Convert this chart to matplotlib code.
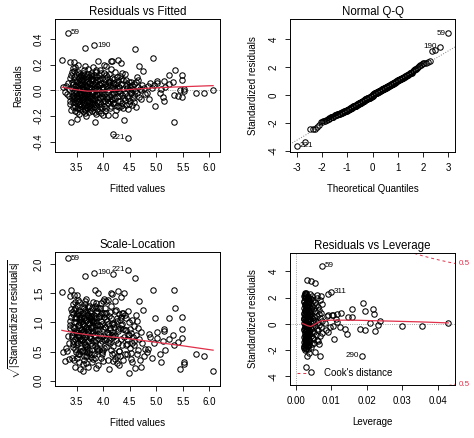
import statistics
import numpy as np
import matplotlib.pyplot as plt

plt.rcParams['font.family'] = ['Liberation Sans', 'DejaVu Sans']
plt.rcParams['mathtext.fontset'] = 'custom'
plt.rcParams['mathtext.rm'] = 'Liberation Sans'
plt.rcParams['axes.unicode_minus'] = False

# ---- data (fitted value, raw residual) ----
fitted = [
    3.22, 3.25, 3.27, 3.29,
    3.34, 3.39, 3.38, 3.37, 3.35, 3.33, 3.40, 3.36, 3.38, 3.39, 3.32, 3.37,
    3.44, 3.47, 3.42, 3.41, 3.45, 3.48, 3.43, 3.46, 3.41, 3.44, 3.49, 3.42, 3.47, 3.45,
    3.43, 3.48, 3.46, 3.41, 3.49, 3.44, 3.42, 3.47, 3.45, 3.43, 3.48, 3.46, 3.49, 3.41,
    3.51, 3.53, 3.52, 3.55, 3.57, 3.54, 3.58, 3.51, 3.56, 3.53, 3.59, 3.52, 3.55, 3.57,
    3.50, 3.54, 3.58, 3.51, 3.56, 3.53, 3.59, 3.55, 3.52, 3.57, 3.54, 3.58, 3.50, 3.56,
    3.53, 3.59, 3.51, 3.55, 3.57, 3.52, 3.58, 3.54,
    3.65, 3.66, 3.68, 3.62, 3.64, 3.61, 3.67, 3.63, 3.69, 3.60, 3.66, 3.62, 3.68, 3.64,
    3.61, 3.67, 3.63, 3.69, 3.65, 3.60, 3.66, 3.62, 3.68, 3.64, 3.61, 3.67, 3.63, 3.69,
    3.65, 3.62, 3.66, 3.60, 3.68, 3.63, 3.67, 3.61, 3.64, 3.69, 3.66, 3.62,
    3.71, 3.74, 3.77, 3.72, 3.75, 3.78, 3.73, 3.76, 3.79, 3.70, 3.74, 3.77, 3.72, 3.75,
    3.78, 3.71, 3.76, 3.73, 3.79, 3.74, 3.77, 3.70, 3.75, 3.78, 3.72, 3.76, 3.79, 3.73,
    3.71, 3.77, 3.74, 3.78, 3.70, 3.75, 3.72, 3.76,
    3.83, 3.85, 3.81, 3.87, 3.82, 3.86, 3.89, 3.84, 3.80, 3.88, 3.83, 3.86, 3.81, 3.89,
    3.84, 3.87, 3.82, 3.85, 3.88, 3.80, 3.86, 3.83, 3.89, 3.84, 3.87, 3.81, 3.85, 3.88,
    3.82, 3.86, 3.80, 3.84,
    3.90, 3.94, 3.95, 3.99, 3.92, 3.97, 3.91, 3.96, 3.93, 3.98, 3.90, 3.95, 3.92, 3.97,
    3.94, 3.99, 3.91, 3.96, 3.93, 3.98, 3.90, 3.95, 3.92, 3.97, 3.94, 3.99,
    4.02, 4.08, 4.05, 4.01, 4.07, 4.03, 4.09, 4.04, 4.06, 4.00, 4.08, 4.02, 4.05, 4.07,
    4.03, 4.09, 4.01, 4.06, 4.04, 4.08, 4.00, 4.06,
    4.15, 4.16, 4.18, 4.14, 4.11, 4.17, 4.12, 4.19, 4.13, 4.16, 4.10, 4.18, 4.14, 4.11,
    4.17, 4.12, 4.19, 4.15, 4.13, 4.16, 4.10, 4.18,
    4.27, 4.22, 4.22, 4.25, 4.21, 4.28, 4.24, 4.29, 4.23, 4.26, 4.20, 4.27, 4.23, 4.28,
    4.21, 4.25, 4.29, 4.24, 4.26, 4.20,
    4.33, 4.39, 4.36, 4.31, 4.38, 4.34, 4.30, 4.37, 4.32, 4.35, 4.39, 4.31, 4.36, 4.33,
    4.38, 4.34, 4.30,
    4.47, 4.41, 4.46, 4.43, 4.48, 4.42, 4.45, 4.49, 4.40, 4.44, 4.47, 4.41, 4.48, 4.43, 4.45,
    4.54, 4.52, 4.57, 4.51, 4.55, 4.59, 4.53, 4.58, 4.56, 4.50, 4.54, 4.57, 4.52,
    4.60, 4.67, 4.61, 4.64, 4.62, 4.66, 4.69, 4.63, 4.68, 4.65,
    4.75, 4.72, 4.73, 4.77, 4.71, 4.78,
    4.93, 4.87, 4.85, 4.82, 4.91, 4.95, 4.98, 4.89,
    5.02, 5.01, 5.08, 5.07, 5.15, 5.17, 5.15, 5.12,
    5.23, 5.23, 5.31, 5.36, 5.34, 5.33, 5.41, 5.44, 5.48, 5.49, 5.49, 5.53, 5.53,
    5.75, 5.90, 6.07,
]
resid = [
    0.235, 0.024, -0.012, 0.033,
    0.45, -0.248, 0.093, 0.218, -0.043, 0.061, -0.155, 0.014, -0.083, 0.121, -0.026, -0.108,
    0.22, 0.185, 0.178, 0.142, 0.103, 0.072, 0.047, 0.031, 0.016, -0.013, -0.024, -0.041, -0.053, -0.068,
    -0.087, -0.102, -0.119, -0.058, 0.124, 0.083, -0.133, 0.006, 0.152, -0.034, 0.038, -0.161, -0.077, 0.064,
    -0.22, -0.14, 0.198, 0.131, 0.113, 0.094, 0.078, 0.069, 0.052, 0.043, 0.027, 0.021, 0.011, -0.004,
    -0.015, -0.022, -0.033, -0.046, -0.051, -0.063, -0.072, -0.084, -0.093, -0.104, -0.113, -0.121, -0.134, -0.148,
    0.147, 0.106, -0.172, 0.058, -0.027, -0.061, 0.118, -0.186,
    0.33, 0.19, -0.20, 0.138, 0.117, 0.098, 0.087, 0.074, 0.062, 0.049, 0.041, 0.029, 0.018, 0.013,
    0.003, -0.009, -0.018, -0.031, -0.038, -0.052, -0.057, -0.071, -0.079, -0.091, -0.097, -0.112, -0.118, -0.129,
    -0.142, -0.163, -0.151, 0.081, 0.109, -0.044, 0.036, -0.067, 0.158, -0.025, -0.178, 0.008,
    0.128, 0.101, 0.084, 0.071, 0.054, 0.039, 0.023, 0.017, -0.011, -0.019, -0.029, -0.042, -0.048, -0.059,
    -0.069, -0.082, -0.088, -0.099, -0.109, -0.123, -0.127, -0.138, -0.147, -0.158, 0.163, 0.137, 0.111, 0.057,
    -0.006, -0.021, -0.168, 0.092, 0.034, -0.116, -0.074, 0.122,
    0.35, -0.25, 0.185, 0.143, 0.119, 0.103, 0.081, 0.063, 0.048, 0.032, 0.022, 0.005, -0.014, -0.026,
    -0.037, -0.049, -0.064, -0.078, -0.094, -0.102, -0.117, -0.131, -0.146, -0.167, -0.182, 0.088, 0.044, -0.031,
    -0.108, 0.157, -0.072, 0.015,
    0.23, 0.16, -0.18, -0.19, 0.121, 0.097, 0.079, 0.061, 0.043, 0.024, 0.007, -0.016, -0.028, -0.047,
    -0.062, -0.081, -0.092, -0.107, -0.126, -0.139, -0.158, 0.132, 0.053, -0.022, 0.089, 0.028,
    0.20, -0.195, 0.19, 0.137, 0.108, 0.087, 0.068, 0.051, 0.034, 0.012, -0.013, -0.032, -0.053, -0.071,
    -0.086, -0.097, -0.123, -0.138, -0.157, 0.046, -0.061, 0.116,
    0.23, 0.225, -0.34, 0.168, 0.127, 0.098, 0.076, 0.057, 0.042, 0.022, 0.004, -0.012, -0.029, -0.051,
    -0.064, -0.083, -0.101, -0.118, -0.141, -0.072, 0.067, 0.037,
    0.24, 0.145, -0.19, 0.107, 0.088, 0.073, 0.051, 0.027, 0.014, -0.009, -0.023, -0.043, -0.062, -0.079,
    -0.098, -0.118, -0.132, -0.149, 0.019, 0.059,
    0.21, -0.23, 0.138, 0.112, 0.079, 0.053, 0.026, 0.013, -0.018, -0.039, -0.058, -0.083, -0.097, -0.122,
    -0.139, 0.092, -0.007,
    -0.37, 0.13, -0.145, 0.078, 0.063, 0.038, 0.021, 0.002, -0.021, -0.041, -0.063, -0.078, -0.104, -0.117, 0.052,
    -0.11, 0.068, 0.047, 0.032, 0.011, -0.005, -0.023, -0.038, -0.057, -0.082, 0.043, -0.091, -0.014,
    0.32, 0.19, -0.13, 0.108, 0.063, 0.028, 0.013, -0.021, -0.052, 0.084,
    0.15, -0.07, 0.042, 0.019, 0.006, -0.031,
    0.25, -0.065, 0.031, -0.024, 0.016, 0.042, -0.12, 0.058,
    0.071, 0.055, 0.011, -0.021, 0.075, 0.029, -0.082, -0.048,
    0.118, 0.052, 0.062, 0.16, -0.245, -0.039, -0.046, 0.0045, 0.122, 0.079, -0.055, 0.011, -0.008,
    -0.021, -0.019, 0.0026,
]
resid_se = 0.102                 # residual standard error (59 -> 4.4)
top_ids = ['59', '221', '190']   # the three largest |residuals|, in that order

# red smoothers
smooth1_x = [3.22, 3.5, 3.7, 4.0, 4.4, 4.8, 5.2, 5.6, 6.07]
smooth1_y = [0.025, 0.004, -0.006, -0.004, 0.004, 0.016, 0.024, 0.030, 0.037]
smooth3_x = [3.22, 3.5, 3.75, 4.0, 4.5, 5.0, 5.5, 6.07]
smooth3_y = [0.865, 0.815, 0.785, 0.765, 0.72, 0.66, 0.60, 0.525]

# ---- Residuals vs Leverage (leverage, standardized residual) ----
lev = [
    0.0024, 0.0027, 0.0022, 0.0030, 0.0025, 0.0028, 0.0023, 0.0031, 0.0026, 0.0029,
    0.0022, 0.0027, 0.0024, 0.0030, 0.0025, 0.0028, 0.0023, 0.0026, 0.0031, 0.0024,
    0.0029, 0.0022, 0.0027, 0.0025, 0.0030, 0.0023, 0.0028, 0.0026, 0.0024, 0.0031,
    0.0022, 0.0029, 0.0025, 0.0027, 0.0023, 0.0030, 0.0026, 0.0024, 0.0028, 0.0022,
    0.0031, 0.0025, 0.0027, 0.0023, 0.0029, 0.0026,
    0.0028, 0.0023, 0.0031, 0.0026, 0.0029, 0.0024, 0.0032, 0.0027, 0.0022, 0.0030,
    0.0025, 0.0028, 0.0023, 0.0031, 0.0026, 0.0029, 0.0024, 0.0032, 0.0027, 0.0022,
    0.0030, 0.0025, 0.0028, 0.0033, 0.0034, 0.0032, 0.0035, 0.0033, 0.0034, 0.0036,
    0.0023, 0.0026, 0.0029, 0.0032, 0.0035, 0.0038, 0.0024, 0.0027, 0.0030, 0.0033,
    0.0036, 0.0039, 0.0022, 0.0025, 0.0028, 0.0031, 0.0034, 0.0037, 0.0040, 0.0026,
    0.0029, 0.0032, 0.0035, 0.0023, 0.0027, 0.0030, 0.0033, 0.0036, 0.0025, 0.0031,
    0.0035, 0.0041, 0.0038, 0.0045, 0.0033, 0.0040, 0.0036, 0.0047, 0.0043, 0.0034,
    0.0039, 0.0046, 0.0037, 0.0042, 0.0035, 0.0044, 0.0038, 0.0033, 0.0041, 0.0047,
    0.0036, 0.0040, 0.0045, 0.0034, 0.0039, 0.0043, 0.0037, 0.0046, 0.0035, 0.0042,
    0.0038, 0.0044, 0.0033, 0.0040, 0.0036, 0.0047, 0.0041, 0.0034, 0.0045, 0.0039,
    0.0052, 0.0060, 0.0049, 0.0067, 0.0056, 0.0072, 0.0050, 0.0063, 0.0058, 0.0070,
    0.0053, 0.0065, 0.0049, 0.0061, 0.0074, 0.0055, 0.0068, 0.0051, 0.0059, 0.0064,
    0.0071, 0.0054, 0.0066, 0.0050, 0.0062, 0.0057, 0.0073, 0.0053, 0.0069, 0.0060,
    0.00725, 0.0030, 0.0041, 0.0055, 0.0091, 0.0099, 0.0058, 0.0071, 0.0188, 0.0159,
    0.0196, 0.0218, 0.0221, 0.0127, 0.0105, 0.0087, 0.0112, 0.0148, 0.0157, 0.0237,
    0.0232, 0.0209, 0.0300, 0.0355, 0.0430, 0.0181, 0.0195, 0.0222, 0.0138, 0.0143,
    0.0124, 0.0105, 0.0115, 0.0091, 0.0108, 0.0185, 0.0068, 0.0054, 0.0038, 0.0032,
    0.0028, 0.0042, 0.0066, 0.0061, 0.0089, 0.0103, 0.0117, 0.0082, 0.0095, 0.0085,
]
sres = [
    -1.97, -1.88, -1.79, -1.66, -1.55, -1.47, -1.36, -1.28, -1.17, -1.09,
    -0.98, -0.91, -0.80, -0.72, -0.63, -0.52, -0.44, -0.35, -0.24, -0.17,
    -0.06, 0.03, 0.12, 0.21, 0.29, 0.38, 0.47, 0.55, 0.66, 0.74,
    0.83, 0.92, 1.01, 1.12, 1.20, 1.31, 1.42, 1.50, 1.61, 1.72,
    1.83, 1.94, 2.05, 2.16, 2.27, 2.38,
    -1.93, -1.70, -1.50, -1.33, -1.13, -0.95, -0.77, -0.58, -0.40, -0.21,
    -0.02, 0.16, 0.34, 0.51, 0.70, 0.88, 1.06, 1.25, 1.45, 1.65,
    1.88, 2.10, 2.32, -1.62, -0.85, -0.10, 0.60, 1.36, 2.00, -1.25,
    -1.84, -1.58, -1.22, -1.02, -0.67, -0.46, -0.28, -0.13, 0.07, 0.25,
    0.43, 0.62, 0.79, 0.96, 1.16, 1.33, 1.53, 1.76, 1.98, 2.21,
    -1.40, -0.90, -0.55, 0.45, 1.10, 1.70, -1.70, 0.90, 2.30, -0.05,
    -1.90, -1.78, -1.65, -1.52, -1.41, -1.30, -1.19, -1.05, -0.96, -0.85,
    -0.74, -0.62, -0.53, -0.41, -0.32, -0.20, -0.11, 0.00, 0.09, 0.18,
    0.27, 0.39, 0.48, 0.57, 0.68, 0.77, 0.88, 0.97, 1.08, 1.17,
    1.28, 1.39, 1.48, 1.59, 1.70, 1.81, 1.93, 2.04, 2.15, 2.26,
    -1.45, -1.20, -1.08, -0.95, -0.82, -0.70, -0.60, -0.48, -0.37, -0.25,
    -0.15, -0.05, 0.06, 0.15, 0.24, 0.33, 0.44, 0.55, 0.63, 0.74,
    0.86, 0.97, 1.06, 1.19, 1.30, 1.42, 1.55, 1.68, 1.80, 1.95,
    4.44, 3.38, 3.26, 3.13, 2.31, 2.46, 2.18, 2.13, 1.59, 1.15,
    1.00, 1.15, 0.79, 0.85, 0.64, 0.59, 0.38, 0.49, 0.56, 0.23,
    -0.08, 0.05, -0.18, -0.18, 0.03, -0.38, -0.44, -0.56, -0.38, -0.79,
    -0.26, -0.13, 0.13, -0.64, -1.15, -2.44, -2.44, -2.13, -2.26, -2.44,
    -3.28, -3.67, -1.54, -1.28, 0.67, 0.70, 0.74, 0.10, -0.25, -0.45,
]
lev_labels = [('59', 0.00725, 4.44, 'right'), ('311', 0.0099, 2.46, 'right'),
              ('290', 0.0185, -2.44, 'left')]
smooth4_x = [0.0019, 0.0033, 0.0042, 0.0056, 0.0070, 0.0098, 0.0150, 0.0179, 0.025, 0.035, 0.043]
smooth4_y = [0.02, -0.15, -0.20, 0.02, 0.23, 0.28, 0.28, 0.27, 0.22, 0.15, 0.07]
cook_level = 0.5
n_coef = 2

RED = '#E0304A'
fitted = np.array(fitted)
resid = np.array(resid)
std_res = resid / resid_se
order = np.argsort(-np.abs(resid))[:3]

pt = dict(ls='none', marker='o', mfc='none', mec='black', ms=3.9, mew=0.75)
W, H = 474, 438
fig = plt.figure(figsize=(W / 100, H / 100), dpi=100)
ax1 = fig.add_axes([55 / W, 1 - 152 / H, 165 / W, 133 / H])
ax2 = fig.add_axes([290 / W, 1 - 152 / H, 165 / W, 133 / H])
ax3 = fig.add_axes([55 / W, 1 - 386 / H, 165 / W, 134 / H])
ax4 = fig.add_axes([290 / W, 1 - 385 / H, 165 / W, 132 / H])


def style(ax, title, xlabel, ylabel):
    ax.set_title(title, fontsize=8.3, pad=3)
    ax.set_xlabel(xlabel, fontsize=7, labelpad=8)
    ax.set_ylabel(ylabel, fontsize=7, labelpad=8)
    ax.tick_params(direction='out', length=3.5, width=0.6, labelsize=7, pad=4.5)
    for lab in ax.get_yticklabels():
        lab.set_rotation(90)
        lab.set_va('center')
    for s in ax.spines.values():
        s.set_linewidth(0.7)


def label(ax, txt, x, y, side):
    dx = 2 if side == 'right' else -2
    ax.annotate(txt, (x, y), xytext=(dx, 0), textcoords='offset points',
                ha='left' if side == 'right' else 'right', va='center', fontsize=5.8)


# Residuals vs Fitted
ax1.axhline(0, color='gray', ls=':', lw=0.6)
ax1.plot(fitted, resid, **pt)
ax1.plot(smooth1_x, smooth1_y, color=RED, lw=0.9)
ax1.set_xlim(3.09, 6.20)
ax1.set_ylim(-0.48, 0.556)
ax1.set_xticks([3.5, 4.0, 4.5, 5.0, 5.5, 6.0])
ax1.set_yticks([-0.4, -0.2, 0.0, 0.2, 0.4])
style(ax1, 'Residuals vs Fitted', 'Fitted values', 'Residuals')
for k, i in enumerate(order):
    label(ax1, top_ids[k], fitted[i], resid[i], 'left' if top_ids[k] == '221' else 'right')

# Normal Q-Q
n = len(std_res)
srt = np.argsort(std_res)
probs = (np.arange(1, n + 1) - 0.5) / n
theo = np.array([statistics.NormalDist().inv_cdf(p) for p in probs])
ax2.plot(theo, std_res[srt], **pt)
yq = np.quantile(std_res, [0.25, 0.75])
xq = np.array([statistics.NormalDist().inv_cdf(p) for p in (0.25, 0.75)])
slope = (yq[1] - yq[0]) / (xq[1] - xq[0])
icpt = yq[0] - slope * xq[0]
ax2.axline((0, icpt), slope=slope, color='gray', ls=':', lw=0.7)
ax2.set_xlim(-3.26, 3.26)
ax2.set_ylim(-4.07, 5.42)
ax2.set_xticks([-3, -2, -1, 0, 1, 2, 3])
ax2.set_yticks([-4, -2, 0, 2, 4])
style(ax2, 'Normal Q-Q', 'Theoretical Quantiles', 'Standardized residuals')
rank = np.empty(n, dtype=int)
rank[srt] = np.arange(n)
for k, i in enumerate(order):
    label(ax2, top_ids[k], theo[rank[i]], std_res[i], 'right' if theo[rank[i]] < 0 else 'left')

# Scale-Location
sq = np.sqrt(np.abs(std_res))
ax3.plot(fitted, sq, **pt)
ax3.plot(smooth3_x, smooth3_y, color=RED, lw=0.9)
ax3.set_xlim(3.09, 6.20)
ax3.set_ylim(-0.09, 2.21)
ax3.set_xticks([3.5, 4.0, 4.5, 5.0, 5.5, 6.0])
ax3.set_yticks([0.0, 0.5, 1.0, 1.5, 2.0])
style(ax3, 'Scale-Location', 'Fitted values', r'$\sqrt{|\mathrm{Standardized\ residuals}|}$')
for k, i in enumerate(order):
    label(ax3, top_ids[k], fitted[i], sq[i], 'left' if top_ids[k] == '221' else 'right')

# Residuals vs Leverage
ax4.axhline(0, color='gray', ls=':', lw=0.6)
ax4.axvline(0, color='gray', ls=':', lw=0.6)
ax4.plot(lev, sres, **pt)
ax4.plot(smooth4_x, smooth4_y, color=RED, lw=0.9)
xmax = 0.0449
hh = np.linspace(0.001, xmax, 200)
cr = np.sqrt(cook_level * n_coef * (1 - hh) / hh)
ax4.plot(hh, cr, color=RED, ls='--', lw=0.7, dashes=(3, 3))
ax4.plot(hh, -cr, color=RED, ls='--', lw=0.7, dashes=(3, 3))
ax4.set_xlim(-0.0017, xmax)
ax4.set_ylim(-4.67, 5.41)
ax4.set_xticks([0.00, 0.01, 0.02, 0.03, 0.04])
ax4.set_xticklabels(['0.00', '0.01', '0.02', '0.03', '0.04'])
ax4.set_yticks([-4, -2, 0, 2, 4])
style(ax4, 'Residuals vs Leverage', 'Leverage', 'Standardized residuals')
edge = np.sqrt(cook_level * n_coef * (1 - xmax) / xmax)
for yv in (edge, -edge):
    ax4.annotate('0.5', (1, yv), xycoords=('axes fraction', 'data'), xytext=(3, 0),
                 textcoords='offset points', ha='left', va='center', fontsize=5.8,
                 color=RED, annotation_clip=False)
for txt, x, y, side in lev_labels:
    label(ax4, txt, x, y, side)
ax4.plot([], [], color=RED, ls='--', lw=0.7, dashes=(3, 3), label="Cook's distance")
ax4.legend(loc='lower left', frameon=False, fontsize=7, handlelength=1.3,
           handletextpad=1.5, borderpad=0.3, borderaxespad=0.4)

fig.savefig('out.png', dpi=100)
